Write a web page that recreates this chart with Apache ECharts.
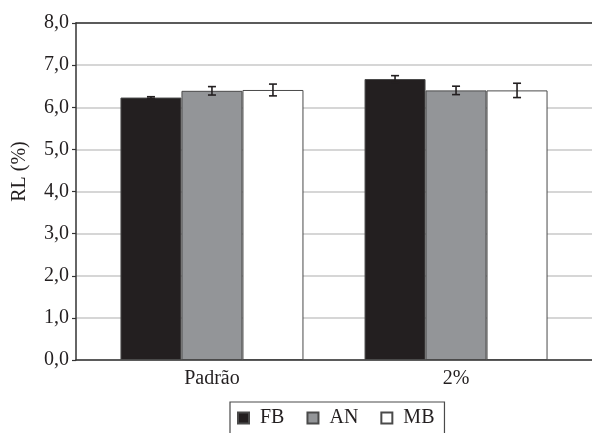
<!DOCTYPE html>
<html>
<head>
<meta charset="utf-8">
<script src="https://cdn.jsdelivr.net/npm/echarts@6/dist/echarts.min.js"></script>
<style>
html,body{margin:0;padding:0;background:#fff;}
#c{width:592px;height:433px;}
</style>
</head>
<body>
<div id="c"></div>
<script>
const categories = ['Padrão', '2%'];
const seriesNames = ['FB', 'AN', 'MB'];
const fbValues = [6.23, 6.67];
const anValues = [6.39, 6.40];
const mbValues = [6.41, 6.40];
const fbErrors = [0.02, 0.08];
const anErrors = [0.10, 0.10];
const mbErrors = [0.14, 0.17];
const yTicks = [0, 1, 2, 3, 4, 5, 6, 7, 8];

const values = [fbValues, anValues, mbValues];
const errors = [fbErrors, anErrors, mbErrors];
const fills = ['#231f20', '#939598', '#ffffff'];
const BAR_W = 61;
const FONT = 'Liberation Serif';
const TXT = '#231f20';

const chart = echarts.init(document.getElementById('c'), null, {renderer: 'canvas'});

const barSeries = seriesNames.map((name, i) => ({
  name: name,
  type: 'bar',
  xAxisIndex: 0,
  yAxisIndex: 0,
  barWidth: BAR_W,
  barGap: '0%',
  itemStyle: {color: fills[i], borderColor: '#4a4a4a', borderWidth: 1},
  emphasis: {disabled: true},
  data: categories.map((c, k) => [k, values[i][k]])
}));

const errSeries = seriesNames.map((name, i) => ({
  type: 'custom',
  xAxisIndex: 0,
  yAxisIndex: 0,
  z: 10,
  silent: true,
  data: categories.map((c, k) => [k, values[i][k], errors[i][k]]),
  renderItem: function (params, api) {
    const x = api.value(0), v = api.value(1), e = api.value(2);
    const off = (i - 1) * BAR_W;
    const hi = api.coord([x, v + e]);
    const lo = api.coord([x, v - e]);
    const cx = hi[0] + off;
    const cap = 4;
    const st = {stroke: '#231f20', lineWidth: 1.6, fill: null};
    return {
      type: 'group',
      children: [
        {type: 'line', shape: {x1: cx, y1: hi[1], x2: cx, y2: lo[1]}, style: st},
        {type: 'line', shape: {x1: cx - cap, y1: hi[1], x2: cx + cap, y2: hi[1]}, style: st},
        {type: 'line', shape: {x1: cx - cap, y1: lo[1], x2: cx + cap, y2: lo[1]}, style: st}
      ]
    };
  }
}));

const option = {
  animation: false,
  backgroundColor: '#ffffff',
  grid: {left: 76, right: 0, top: 23, bottom: 73},
  legend: {
    data: seriesNames,
    left: 230,
    top: 402,
    orient: 'horizontal',
    padding: [6, 10, 20, 7],
    borderColor: '#4a4a4a',
    borderWidth: 1.2,
    itemWidth: 11,
    itemHeight: 11,
    itemGap: 22,
    icon: 'rect',
    textStyle: {fontFamily: FONT, fontSize: 20, color: TXT, padding: [0, 0, 0, 6]}
  },
  xAxis: [{
    type: 'value',
    position: 'bottom',
    min: -0.557,
    max: 1.557,
    splitLine: {show: false},
    axisTick: {show: false},
    axisLine: {show: true, onZero: false, lineStyle: {color: '#333', width: 1.5}},
    axisLabel: {
      customValues: categories.map((c, k) => k),
      formatter: v => categories[Math.round(v)] || '',
      fontFamily: FONT, fontSize: 20, color: TXT, margin: 9
    }
  }, {
    type: 'value',
    position: 'top',
    min: -0.557,
    max: 1.557,
    splitLine: {show: false},
    axisTick: {show: false},
    axisLabel: {show: false},
    axisLine: {show: true, onZero: false, lineStyle: {color: '#333', width: 1.5}}
  }],
  yAxis: {
    type: 'value',
    min: yTicks[0],
    max: yTicks[yTicks.length - 1],
    interval: 1,
    name: 'RL (%)',
    nameLocation: 'middle',
    nameGap: 46,
    nameTextStyle: {fontFamily: FONT, fontSize: 20, color: TXT, padding: [0, 0, 0, 40]},
    axisLine: {show: true, onZero: false, lineStyle: {color: '#333', width: 1.5}},
    axisTick: {show: true, inside: false, length: 4, lineStyle: {color: '#333', width: 1.2}},
    axisLabel: {
      formatter: v => v.toFixed(1).replace('.', ','),
      fontFamily: FONT, fontSize: 20, color: TXT, margin: 7
    },
    splitLine: {show: true, lineStyle: {color: '#c9c9c9', width: 1.5}}
  },
  series: barSeries.concat(errSeries)
};
chart.setOption(option);
</script>
</body>
</html>
